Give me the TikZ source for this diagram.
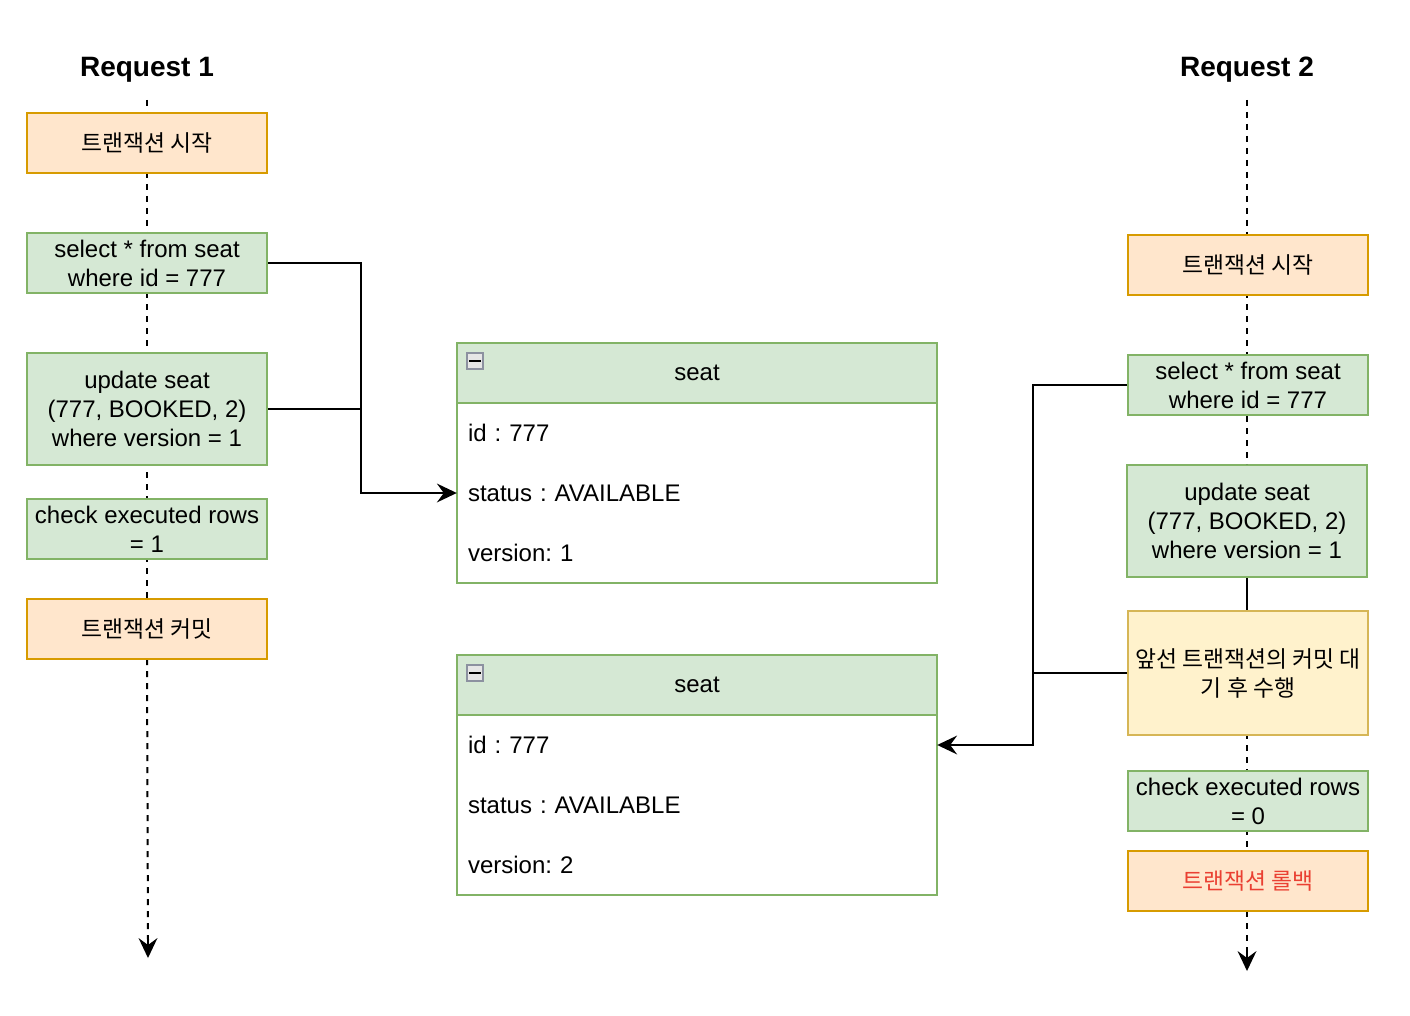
\documentclass[tikz,border=0pt]{standalone}
\usepackage{fontspec}
\setmainfont{Liberation Sans}
\newfontfamily\kr[Scale=0.95]{Noto Sans CJK KR}
\usetikzlibrary{arrows.meta}
\definecolor{orfill}{HTML}{FFE6CC}
\definecolor{orline}{HTML}{D79B00}
\definecolor{grfill}{HTML}{D5E8D4}
\definecolor{grline}{HTML}{82B366}
\definecolor{yefill}{HTML}{FFF2CC}
\definecolor{yeline}{HTML}{D6B656}
\definecolor{redtxt}{RGB}{234,64,50}
\definecolor{icline}{HTML}{8C91A0}
\definecolor{icfill}{HTML}{E6E6E6}
\tikzset{
  box/.style={rectangle, draw, line width=2pt, minimum width=240pt, minimum height=60pt, inner sep=0pt, align=center, font=\fontsize{24}{29}\selectfont},
  txbox/.style={box, fill=orfill, draw=orline},
  sqlbox/.style={box, fill=grfill, draw=grline},
  waitbox/.style={box, fill=yefill, draw=yeline},
  title/.style={font=\fontsize{28}{32}\selectfont\bfseries, minimum height=60pt, inner sep=0pt},
  life/.style={line width=2pt, dash pattern=on 6pt off 6pt},
  conn/.style={line width=2pt},
  tip/.style={-{Stealth[length=20pt,width=19pt,inset=7pt,line width=0pt]}},
  thead/.style={rectangle, draw=grline, fill=grfill, line width=2pt, minimum width=480pt, minimum height=60pt, inner sep=0pt, font=\fontsize{24}{29}\selectfont},
  tbody/.style={rectangle, draw=grline, fill=white, line width=2pt, minimum width=480pt, minimum height=180pt, inner sep=0pt},
  trow/.style={rectangle, minimum width=480pt, minimum height=60pt, inner xsep=11pt, inner ysep=0pt, text width=458pt, align=left, font=\fontsize{24}{29}\selectfont},
  icon/.style={rectangle, draw=icline, fill=icfill, line width=2pt, minimum size=16pt, inner sep=0pt},
}
\frenchspacing
\begin{document}
\begin{tikzpicture}[x=1pt,y=-1pt]
\useasboundingbox (0,0) rectangle (1410,1016);

% titles
\node[title] (r1) at (147,70) {Request 1};
\node[title] (r2) at (1247,70) {Request 2};

% coordinates for lifeline ends
\coordinate (e1) at (148,958);
\coordinate (e2) at (1247,971);

% left lifeline (behind boxes)
\draw[life] (147,100) -- (147,629);
\draw[life] (147,659) -- (148,940);
\draw[conn, tip] (148,936) -- (e1);

% left boxes
\node[txbox] (st1) at (147,143) {\kr 트랜잭션 시작};
\node[sqlbox] (sel1) at (147,263) {select * from seat\\where id = 777};
\node[sqlbox, minimum height=112pt] (upd1) at (147,409) {update seat\\(777, BOOKED, 2)\\where version = 1};
\node[sqlbox] (chk1) at (147,529) {check executed rows\\= 1};
\node[txbox] (cm1) at (147,629) {\kr 트랜잭션 커밋};

% right lifeline (behind boxes)
\draw[life] (1247,100) -- (1247,385);
\draw[life] (1247,577) -- (1247,881);
\draw[life] (1247,911) -- (1247,953);
\draw[conn, tip] (1247,949) -- (e2);

% right boxes
\node[txbox] (st2) at (1248,265) {\kr 트랜잭션 시작};
\node[sqlbox] (sel2) at (1248,385) {select * from seat\\where id = 777};
\node[sqlbox, minimum height=112pt] (upd2) at (1247,521) {update seat\\(777, BOOKED, 2)\\where version = 1};
\node[waitbox, minimum height=124pt] (wait) at (1248,673) {\kr 앞선 트랜잭션의 커밋 대\\\kr 기 후 수행};
\node[sqlbox] (chk2) at (1248,801) {check executed rows\\= 0};
\node[txbox, text=redtxt] (rb2) at (1248,881) {\kr 트랜잭션 롤백};

\draw[life] (sel2.south -| upd2.north) -- (upd2.north);
\draw[conn] (upd2.south) -- (upd2.south |- wait.north);

% table 1
\node[thead] (h1) at (697,373) {seat};
\node[tbody] (b1) at (697,493) {};
\node[icon] (ic1) at (475,361) {};
\draw[line width=2.5pt] ([xshift=3pt]ic1.west) -- ([xshift=-3pt]ic1.east);
\node[trow] (t1id) at (697,433) {id : 777};
\node[trow] (t1status) at (697,493) {status : AVAILABLE};
\node[trow] (t1ver) at (697,553) {version: 1};

% table 2
\node[thead] (h2) at (697,685) {seat};
\node[tbody] (b2) at (697,805) {};
\node[icon] (ic2) at (475,673) {};
\draw[line width=2.5pt] ([xshift=3pt]ic2.west) -- ([xshift=-3pt]ic2.east);
\node[trow] (t2id) at (697,745) {id : 777};
\node[trow] (t2status) at (697,805) {status : AVAILABLE};
\node[trow] (t2ver) at (697,865) {version: 2};

% connectors
\coordinate (j1) at (361,263);
\draw[conn, tip] (sel1.east) -- (j1) |- (t1status.west);
\draw[conn] (upd1.east) -- (upd1.east -| j1);

\coordinate (j2) at (1033,385);
\draw[conn, tip] (sel2.west) -- (j2) |- (t2id.east);
\draw[conn] (wait.west) -- (wait.west -| j2);
\end{tikzpicture}
\end{document}
